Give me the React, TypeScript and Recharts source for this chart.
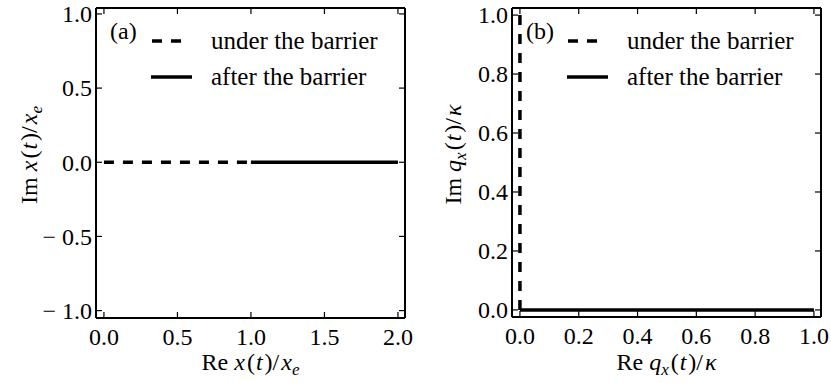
import { LineChart, Line, XAxis, YAxis, Legend } from 'recharts';

// panel (a): x(t)/x_e
const underA = [
  { x: 0, y: 0 },
  { x: 1, y: 0 },
];
const afterA = [
  { x: 1, y: 0 },
  { x: 2, y: 0 },
];
const xTicksA = [0, 0.5, 1, 1.5, 2];
const yTicksA = [-1, -0.5, 0, 0.5, 1];

// panel (b): q_x(t)/kappa
const underB = [
  { x: 0, y: 0 },
  { x: 0, y: 1 },
];
const afterB = [
  { x: 0, y: 0 },
  { x: 1, y: 0 },
];
const xTicksB = [0, 0.2, 0.4, 0.6, 0.8, 1];
const yTicksB = [0, 0.2, 0.4, 0.6, 0.8, 1];

const seriesNames = ['under the barrier', 'after the barrier'];

const FONT = "'Liberation Serif', 'DejaVu Serif', serif";
const DASH = '10 9';
const H = 383;
const FS = 24;

// mathtext-like minus with a gap after it
const TickText = ({ v }: { v: number }) =>
  v < 0 ? (
    <>
      <tspan>{'\u2212'}</tspan>
      <tspan dx={6}>{Math.abs(v).toFixed(1)}</tspan>
    </>
  ) : (
    <>{v.toFixed(1)}</>
  );

const BottomTick = (p: any) => (
  <g>
    <line x1={p.x} x2={p.x} y1={p.y} y2={p.y - 6} stroke="#000" strokeWidth={1.2} />
    <text x={p.x} y={p.y + 27} textAnchor="middle" fontSize={FS} fontFamily={FONT} fill="#000">
      <TickText v={p.payload.value} />
    </text>
  </g>
);
const TopTick = (p: any) => (
  <line x1={p.x} x2={p.x} y1={p.y} y2={p.y + 6} stroke="#000" strokeWidth={1.2} />
);
const LeftTick = (p: any) => (
  <g>
    <line x1={p.x} x2={p.x + 6} y1={p.y} y2={p.y} stroke="#000" strokeWidth={1.2} />
    <text x={p.x - 4} y={p.y} dy="0.35em" textAnchor="end" fontSize={FS} fontFamily={FONT} fill="#000">
      <TickText v={p.payload.value} />
    </text>
  </g>
);
const RightTick = (p: any) => (
  <line x1={p.x} x2={p.x - 6} y1={p.y} y2={p.y} stroke="#000" strokeWidth={1.2} />
);

type PanelProps = {
  width: number;
  margin: { top: number; right: number; bottom: number; left: number };
  under: { x: number; y: number }[];
  after: { x: number; y: number }[];
  xDomain: [number, number];
  yDomain: [number, number];
  xTicks: number[];
  yTicks: number[];
  tag: string;
  xLabel: any;
  yLabel: any;
  yLabelX: number;
};

const Panel = (pp: PanelProps) => {
  const { width, margin } = pp;
  const L = margin.left + 1;
  const axis = { stroke: '#000', strokeWidth: 2 };
  return (
    <LineChart width={width} height={H} margin={margin}>
      <XAxis
        dataKey="x"
        type="number"
        domain={pp.xDomain}
        allowDataOverflow
        ticks={pp.xTicks}
        interval={0}
        height={1}
        tickSize={0}
        tickMargin={0}
        tickLine={false}
        axisLine={axis}
        tick={BottomTick}
        label={{
          content: (lp: any) => (
            <text
              x={lp.viewBox.x + lp.viewBox.width / 2}
              y={370}
              textAnchor="middle"
              fontSize={FS}
              fontFamily={FONT}
              fill="#000"
            >
              {pp.xLabel}
            </text>
          ),
        }}
      />
      <XAxis
        xAxisId="top"
        orientation="top"
        dataKey="x"
        type="number"
        domain={pp.xDomain}
        allowDataOverflow
        ticks={pp.xTicks}
        interval={0}
        height={1}
        tickSize={0}
        tickMargin={0}
        tickLine={false}
        axisLine={axis}
        tick={TopTick}
      />
      <YAxis
        type="number"
        domain={pp.yDomain}
        allowDataOverflow
        ticks={pp.yTicks}
        interval={0}
        width={1}
        tickSize={0}
        tickMargin={0}
        tickLine={false}
        axisLine={axis}
        tick={LeftTick}
        label={{
          content: (lp: any) => {
            const cy = lp.viewBox.y + lp.viewBox.height / 2 - 8;
            return (
              <text
                x={pp.yLabelX}
                y={cy}
                transform={`rotate(-90, ${pp.yLabelX}, ${cy})`}
                textAnchor="middle"
                fontSize={FS}
                fontFamily={FONT}
                fill="#000"
              >
                {pp.yLabel}
              </text>
            );
          },
        }}
      />
      <YAxis
        yAxisId="right"
        orientation="right"
        type="number"
        domain={pp.yDomain}
        allowDataOverflow
        ticks={pp.yTicks}
        interval={0}
        width={1}
        tickSize={0}
        tickMargin={0}
        tickLine={false}
        axisLine={axis}
        tick={RightTick}
      />
      <Line
        data={pp.under}
        dataKey="y"
        name={seriesNames[0]}
        stroke="#000"
        strokeWidth={3.5}
        strokeDasharray={DASH}
        dot={false}
        activeDot={false}
        type="linear"
        isAnimationActive={false}
      />
      <Line
        data={pp.after}
        dataKey="y"
        name={seriesNames[1]}
        stroke="#000"
        strokeWidth={3.5}
        dot={false}
        activeDot={false}
        type="linear"
        isAnimationActive={false}
      />
      <Legend
        layout="vertical"
        align="center"
        verticalAlign="middle"
        wrapperStyle={{ left: 0, top: 0, width, height: H, pointerEvents: 'none' }}
        content={() => (
          <svg width={width} height={H} style={{ position: 'absolute', left: 0, top: 0 }}>
            <text x={L + 14} y={39} fontSize={FS} fontFamily={FONT} fill="#000">
              {pp.tag}
            </text>
            <line x1={L + 56} x2={L + 86} y1={41} y2={41} stroke="#000" strokeWidth={3.5} strokeDasharray={DASH} />
            <text x={L + 115} y={49} fontSize={25} fontFamily={FONT} fill="#000">
              {seriesNames[0]}
            </text>
            <line x1={L + 55} x2={L + 96} y1={77} y2={77} stroke="#000" strokeWidth={3.5} />
            <text x={L + 115} y={85} fontSize={25} fontFamily={FONT} fill="#000">
              {seriesNames[1]}
            </text>
          </svg>
        )}
      />
    </LineChart>
  );
};

const it = { fontStyle: 'italic' as const };

const labelX = (head: string) => (
  <>
    <tspan>{head} </tspan>
    <tspan {...it}>x</tspan>
    <tspan dx={2}>(</tspan>
    <tspan {...it} dx={1}>t</tspan>
    <tspan dx={2}>)/</tspan>
    <tspan {...it} dx={2}>x</tspan>
    <tspan {...it} fontSize={17} dy={5}>e</tspan>
  </>
);

const labelQ = (head: string) => (
  <>
    <tspan>{head} </tspan>
    <tspan {...it}>q</tspan>
    <tspan {...it} fontSize={17} dy={5}>x</tspan>
    <tspan dy={-5} dx={2}>(</tspan>
    <tspan {...it} dx={1}>t</tspan>
    <tspan dx={2}>)/</tspan>
    <tspan {...it} dx={2}>κ</tspan>
  </>
);

export default function App() {
  return (
    <div style={{ position: 'absolute', left: 0, top: 0, width: 831, height: H, background: '#fff', display: 'flex' }}>
      <Panel
        width={415}
        margin={{ top: 7, right: 9, bottom: 64, left: 95 }}
        under={underA}
        after={afterA}
        xDomain={[-0.054, 2.048]}
        yDomain={[-1.05, 1.04]}
        xTicks={xTicksA}
        yTicks={yTicksA}
        tag="(a)"
        yLabelX={37}
        xLabel={labelX('Re')}
        yLabel={labelX('Im')}
      />
      <Panel
        width={416}
        margin={{ top: 7, right: 9, bottom: 65, left: 96 }}
        under={underB}
        after={afterB}
        xDomain={[-0.027, 1.024]}
        yDomain={[-0.024, 1.024]}
        xTicks={xTicksB}
        yTicks={yTicksB}
        tag="(b)"
        yLabelX={46}
        xLabel={labelQ('Re')}
        yLabel={labelQ('Im')}
      />
    </div>
  );
}
